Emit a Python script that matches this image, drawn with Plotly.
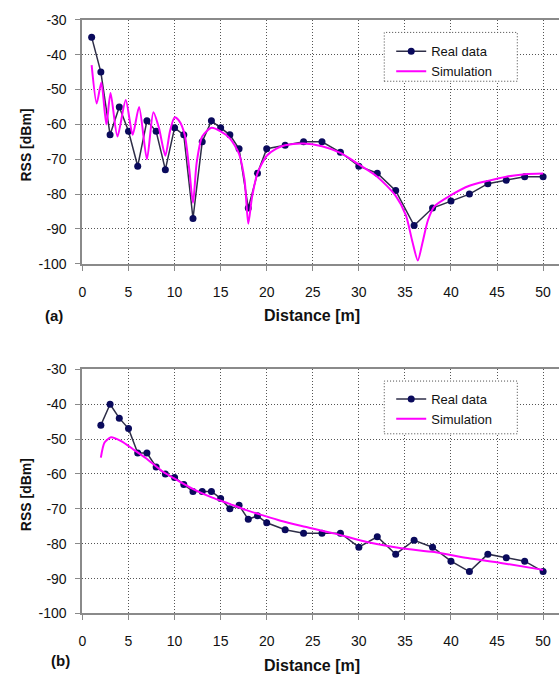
import plotly.graph_objects as go

W, H = 559, 683

# ---------------- data ----------------
# (a) top chart
real_a_x = [1, 2, 3, 4, 5, 6, 7, 8, 9, 10, 11, 12, 13, 14, 15, 16, 17, 18, 19, 20,
            22, 24, 26, 28, 30, 32, 34, 36, 38, 40, 42, 44, 46, 48, 50]
real_a_y = [-35, -45, -63, -55, -62, -72, -59, -62, -73, -61, -63, -87, -65, -59, -61, -63, -67, -84, -74, -67,
            -66, -65, -65, -68, -72, -74, -79, -89, -84, -82, -80, -77, -76, -75, -75]

sim_a_x = [1.0, 1.55, 2.05, 2.6, 3.05, 3.8, 4.7, 5.45, 6.15, 7.0, 7.7, 8.3, 9.0, 9.5, 10.0, 10.5,
           11.1, 11.6, 12.0, 12.4, 13.0, 14.0, 15.0, 16.0, 17.0, 17.6, 18.0, 18.4, 19.0, 20.0,
           21.0, 22.0, 24.0, 26.0, 28.0, 30.0, 32.0, 34.0, 35.1, 35.8, 36.4, 36.9, 37.5, 38.2,
           40.0, 42.0, 44.0, 46.0, 48.0, 50.0]
sim_a_y = [-43, -54, -48, -60, -51, -63.5, -53, -63, -55, -70, -56.5, -61, -69, -62, -58, -59,
           -63, -73, -82.5, -71, -63.5, -61, -62, -64, -68.5, -76, -88.5, -81, -74, -69,
           -67, -66, -65.5, -66.3, -68.2, -71.5, -75, -80.5, -86, -93.5, -99, -94, -87.5, -83.5,
           -80.3, -77.6, -76.2, -75, -74.3, -74.1]

# (b) bottom chart
real_b_x = [2, 3, 4, 5, 6, 7, 8, 9, 10, 11, 12, 13, 14, 15, 16, 17, 18, 19, 20,
            22, 24, 26, 28, 30, 32, 34, 36, 38, 40, 42, 44, 46, 48, 50]
real_b_y = [-46, -40, -44, -47, -54, -54, -58, -60, -61, -63, -65, -65, -65, -67, -70, -69, -73, -72, -74,
            -76, -77, -77, -77, -81, -78, -83, -79, -81, -85, -88, -83, -84, -85, -88]

sim_b_x = [2.0, 2.4, 3.1, 4.2, 5.5, 6.9, 8.7, 10.5, 12.3, 14.1, 15.9, 17.7, 19.5, 21.5,
           23.8, 27.4, 31.0, 34.6, 38.2, 41.8, 45.4, 50.0]
sim_b_y = [-55.3, -51, -49.5, -50.6, -52.9, -55.5, -59.3, -62.1, -64.7, -66.8, -68.5, -70.3, -71.8, -73.4,
           -74.9, -77.1, -79.6, -81.3, -82.4, -84.1, -85.5, -87.5]

x_ticks = [0, 5, 10, 15, 20, 25, 30, 35, 40, 45, 50]
y_ticks = [-100, -90, -80, -70, -60, -50, -40, -30]
y_tick_labels = ["-100", "-90", "-80", "-70", "-60", "-50", "-40", "-30"]

# ---------------- styles ----------------
FONT = "Liberation Sans, Arial, sans-serif"
REAL_LINE = "#2e2e48"
REAL_MARK = "#0a0a5c"
SIM = "#ff00ff"

def px_x(p):
    return p / W

def px_y(p):
    return 1 - p / H

fig = go.Figure()

for xs, ys, xa, ya, lg in [(real_a_x, real_a_y, "x", "y", "legend"),
                           (real_b_x, real_b_y, "x2", "y2", "legend2")]:
    fig.add_trace(go.Scatter(x=xs, y=ys, xaxis=xa, yaxis=ya, legend=lg, name="Real data",
                             mode="lines+markers",
                             line=dict(color=REAL_LINE, width=1.5),
                             marker=dict(color=REAL_MARK, size=7, line=dict(width=0))))
for xs, ys, xa, ya, lg in [(sim_a_x, sim_a_y, "x", "y", "legend"),
                           (sim_b_x, sim_b_y, "x2", "y2", "legend2")]:
    fig.add_trace(go.Scatter(x=xs, y=ys, xaxis=xa, yaxis=ya, legend=lg, name="Simulation",
                             mode="lines", line=dict(color=SIM, width=2, shape="spline", smoothing=0.7)))

x_left = 79
x_range = [0, (W - x_left) / 9.28]

common_x = dict(range=x_range, tickvals=x_ticks, showgrid=True, gridcolor="#555",
                griddash="1px,2px", gridwidth=1, zeroline=False, showline=True,
                linecolor="#8a8a8a", linewidth=2, mirror=True, ticks="outside", ticklen=5,
                tickcolor="#8a8a8a", tickfont=dict(family=FONT, size=14, color="#111"),
                ticklabelstandoff=9, domain=[x_left / W, 1])
common_y = dict(range=[-100, -30], tickvals=y_ticks, ticktext=y_tick_labels, showgrid=True,
                gridcolor="#555", griddash="1px,2px", gridwidth=1, zeroline=False, showline=True,
                linecolor="#8a8a8a", linewidth=2, ticks="outside", ticklen=5,
                tickcolor="#8a8a8a", tickfont=dict(family=FONT, size=14, color="#111"),
                ticklabelstandoff=6)

top_top, top_bot = 12, 262
bot_top, bot_bot = 370, 620

fig.update_layout(
    width=W, height=H, margin=dict(l=0, r=0, t=0, b=0),
    paper_bgcolor="white", plot_bgcolor="white",
    font=dict(family=FONT, color="#111"),
    xaxis=dict(common_x, anchor="y"),
    yaxis=dict(common_y, anchor="x", domain=[px_y(top_bot), px_y(top_top)]),
    xaxis2=dict(common_x, anchor="y2"),
    yaxis2=dict(common_y, anchor="x2", domain=[px_y(bot_bot), px_y(bot_top)]),
    legend=dict(x=px_x(390), y=px_y(29), xanchor="left", yanchor="top",
                bgcolor="rgba(0,0,0,0)", borderwidth=0, itemwidth=30,
                font=dict(family=FONT, size=13, color="#111")),
    legend2=dict(x=px_x(390), y=px_y(385), xanchor="left", yanchor="top",
                 bgcolor="rgba(0,0,0,0)", borderwidth=0, itemwidth=30,
                 font=dict(family=FONT, size=13, color="#111")),
    showlegend=True,
)

# legend boxes (dotted border, white fill)
for (l, t, r, b) in [(383, 25, 517, 75), (383, 382, 517, 436)]:
    fig.add_shape(type="rect", xref="paper", yref="paper",
                  x0=px_x(l), x1=px_x(r), y0=px_y(b), y1=px_y(t),
                  line=dict(color="#444", width=1, dash="1px,2px"),
                  fillcolor="white", layer="above")

anns = [
    ("<b>RSS [dBm]</b>", 22, 140, 14, -90),
    ("<b>RSS [dBm]</b>", 22, 498, 14, -90),
    ("<b>Distance [m]</b>", 310, 315, 16, 0),
    ("<b>Distance [m]</b>", 310, 673, 16, 0),
    ("<b>(a)</b>", 50, 315, 15, 0),
    ("<b>(b)</b>", 57, 668, 15, 0),
]
for txt, x, y, s, ang in anns:
    fig.add_annotation(text=txt, x=px_x(x), y=px_y(y), xref="paper", yref="paper",
                       showarrow=False, textangle=ang, xanchor="center", yanchor="middle",
                       font=dict(family=FONT, size=s, color="#111"))

fig.write_html("out.html")
